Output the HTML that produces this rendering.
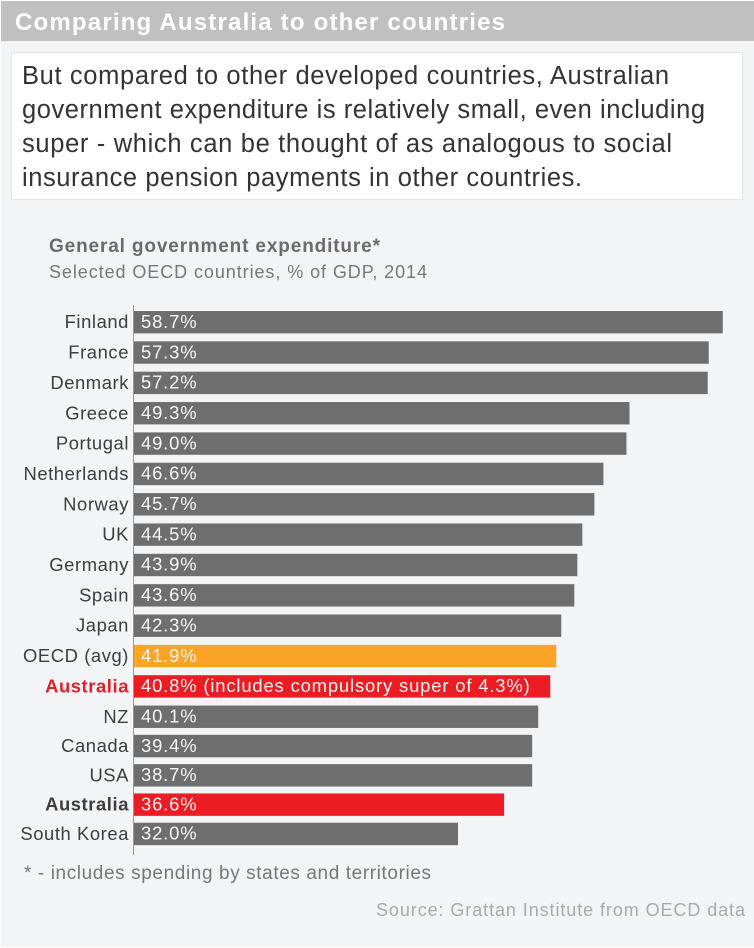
<!DOCTYPE html>
<html lang="en">
<head>
<meta charset="utf-8">
<title>Comparing Australia to other countries</title>
<style>
html,body{margin:0;padding:0;background:#fff;}
body{width:754px;height:948px;overflow:hidden;}
svg{display:block;font-family:"Liberation Sans",Arial,sans-serif;}
</style>
</head>
<body>
<svg id="chart" width="754" height="948" viewBox="0 0 754 948" xmlns="http://www.w3.org/2000/svg">
  <rect x="1" y="1" width="753" height="946" fill="#f3f4f6"/>
  <rect x="1" y="1" width="753" height="40" fill="#c0c0c0"/>
  <text x="15" y="30" font-size="24" font-weight="700" fill="#fff" textLength="490" lengthAdjust="spacing">Comparing Australia to other countries</text>
  <rect x="11.5" y="52.5" width="731" height="147" fill="#fff" stroke="#e3e5e8"/>
  <g font-size="25.5" fill="#333">
    <text x="22" y="84" textLength="647" lengthAdjust="spacing">But compared to other developed countries, Australian</text>
    <text x="22" y="118" textLength="683" lengthAdjust="spacing">government expenditure is relatively small, even including</text>
    <text x="22" y="152" textLength="650" lengthAdjust="spacing">super - which can be thought of as analogous to social</text>
    <text x="22" y="186" textLength="560" lengthAdjust="spacing">insurance pension payments in other countries.</text>
  </g>
  <text x="49" y="252" font-size="19" font-weight="700" fill="#6b6b6b" textLength="331" lengthAdjust="spacing">General government expenditure*</text>
  <text x="49" y="278" font-size="18" fill="#777" textLength="378" lengthAdjust="spacing">Selected OECD countries, % of GDP, 2014</text>
  <g id="bars"></g>
  <g id="labels"></g>
  <line x1="133.5" y1="305" x2="133.5" y2="855" stroke="#999" stroke-width="1"/>
  <text x="24" y="879" font-size="19" fill="#777" textLength="407" lengthAdjust="spacing">* - includes spending by states and territories</text>
  <text x="376" y="916" font-size="18" fill="#aaa" textLength="369" lengthAdjust="spacing">Source: Grattan Institute from OECD data</text>
</svg>
<script>
const categories = ["Finland","France","Denmark","Greece","Portugal","Netherlands","Norway","UK","Germany","Spain","Japan","OECD (avg)","Australia","NZ","Canada","USA","Australia","South Korea"];
const barValues = [58.7,57.3,57.2,49.4,49.1,46.8,45.9,44.7,44.2,43.9,42.6,42.1,41.5,40.3,39.7,39.7,36.9,32.3];
const printedValues = ["58.7%","57.3%","57.2%","49.3%","49.0%","46.6%","45.7%","44.5%","43.9%","43.6%","42.3%","41.9%","40.8% (includes compulsory super of 4.3%)","40.1%","39.4%","38.7%","36.6%","32.0%"];
const barKinds = ["other","other","other","other","other","other","other","other","other","other","other","average","highlight","other","other","other","highlight","other"];
const labelKinds = ["plain","plain","plain","plain","plain","plain","plain","plain","plain","plain","plain","plain","red","plain","plain","plain","bold","plain"];

const SVG_NS = "http://www.w3.org/2000/svg";
const xOrigin = 134, xPerUnit = 10.03, yStart = 311, upperStep = 30.35, lowerStep = 29.3, stepBreakRow = 13, barHeight = 22.4;
const kindFill = {other:"#6e6e6e", average:"#fca428", highlight:"#ec1c24"};
function xScale(v){ return xOrigin + v * xPerUnit; }
function yScale(i){ return yStart + Math.min(i, stepBreakRow) * upperStep + Math.max(i - stepBreakRow, 0) * lowerStep; }

const barsGroup = document.getElementById("bars");
const labelsGroup = document.getElementById("labels");
categories.forEach(function(name, i){
  const rect = document.createElementNS(SVG_NS, "rect");
  rect.setAttribute("x", xOrigin);
  rect.setAttribute("y", yScale(i));
  rect.setAttribute("width", xScale(barValues[i]) - xOrigin);
  rect.setAttribute("height", barHeight);
  rect.setAttribute("fill", kindFill[barKinds[i]]);
  
  
  barsGroup.appendChild(rect);

  const value = document.createElementNS(SVG_NS, "text");
  value.setAttribute("x", 141);
  value.setAttribute("y", yScale(i) + 16.9);
  value.setAttribute("font-size", "18.4");
  value.setAttribute("letter-spacing", "0.85");
  value.setAttribute("fill", "#f6f6f6");
  value.textContent = printedValues[i];
  
  
  barsGroup.appendChild(value);

  const label = document.createElementNS(SVG_NS, "text");
  label.setAttribute("x", 129);
  label.setAttribute("y", yScale(i) + 17.2);
  label.setAttribute("font-size", "18.4");
  label.setAttribute("letter-spacing", "0.58");
  label.setAttribute("text-anchor", "end");
  label.setAttribute("font-weight", labelKinds[i] === "plain" ? "400" : "700");
  label.setAttribute("fill", labelKinds[i] === "red" ? "#e0202a" : "#3d3d3d");
  label.textContent = name;
  
  
  labelsGroup.appendChild(label);
});
</script>
</body>
</html>
